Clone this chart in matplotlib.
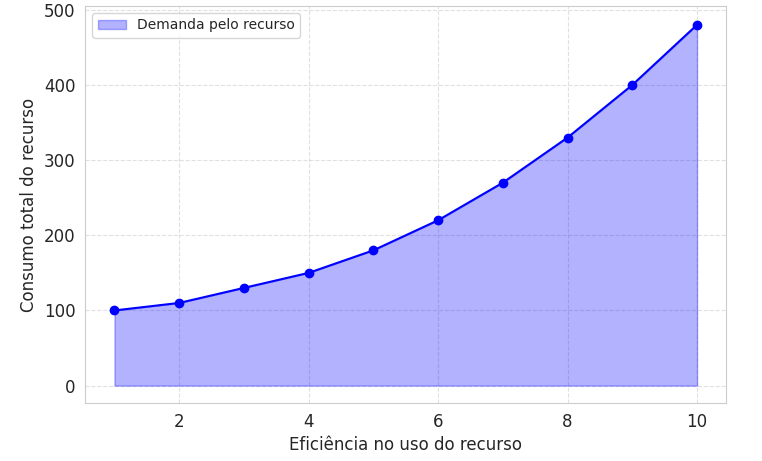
import matplotlib
matplotlib.use("Agg")
import matplotlib.pyplot as plt
import seaborn as sns

sns.set_style("whitegrid")
plt.rcParams['font.family'] = ['DejaVu Sans']

eficiencia = [1, 2, 3, 4, 5, 6, 7, 8, 9, 10]
consumo = [100, 110, 130, 150, 180, 220, 270, 330, 400, 480]

fig = plt.figure(figsize=(7.62, 4.61), dpi=100)
ax = fig.add_axes([0.112, 0.126, 0.841, 0.861])
ax.fill_between(eficiencia, consumo, color='blue', alpha=0.3, label='Demanda pelo recurso')
ax.plot(eficiencia, consumo, color='blue', marker='o', markersize=6)
ax.set_xlim(0.55, 10.45)
ax.set_ylim(-23, 505)
ax.set_xticks([2, 4, 6, 8, 10])
ax.set_yticks([0, 100, 200, 300, 400, 500])
ax.tick_params(labelsize=12)
ax.set_xlabel('Eficiência no uso do recurso', fontsize=12)
ax.set_ylabel('Consumo total do recurso', fontsize=12)
ax.grid(True, linestyle='--', alpha=0.6)
for s in ax.spines.values():
    s.set_color('#cccccc')
ax.legend(loc='upper left', fontsize=10)
fig.savefig('out.png', dpi=100)
